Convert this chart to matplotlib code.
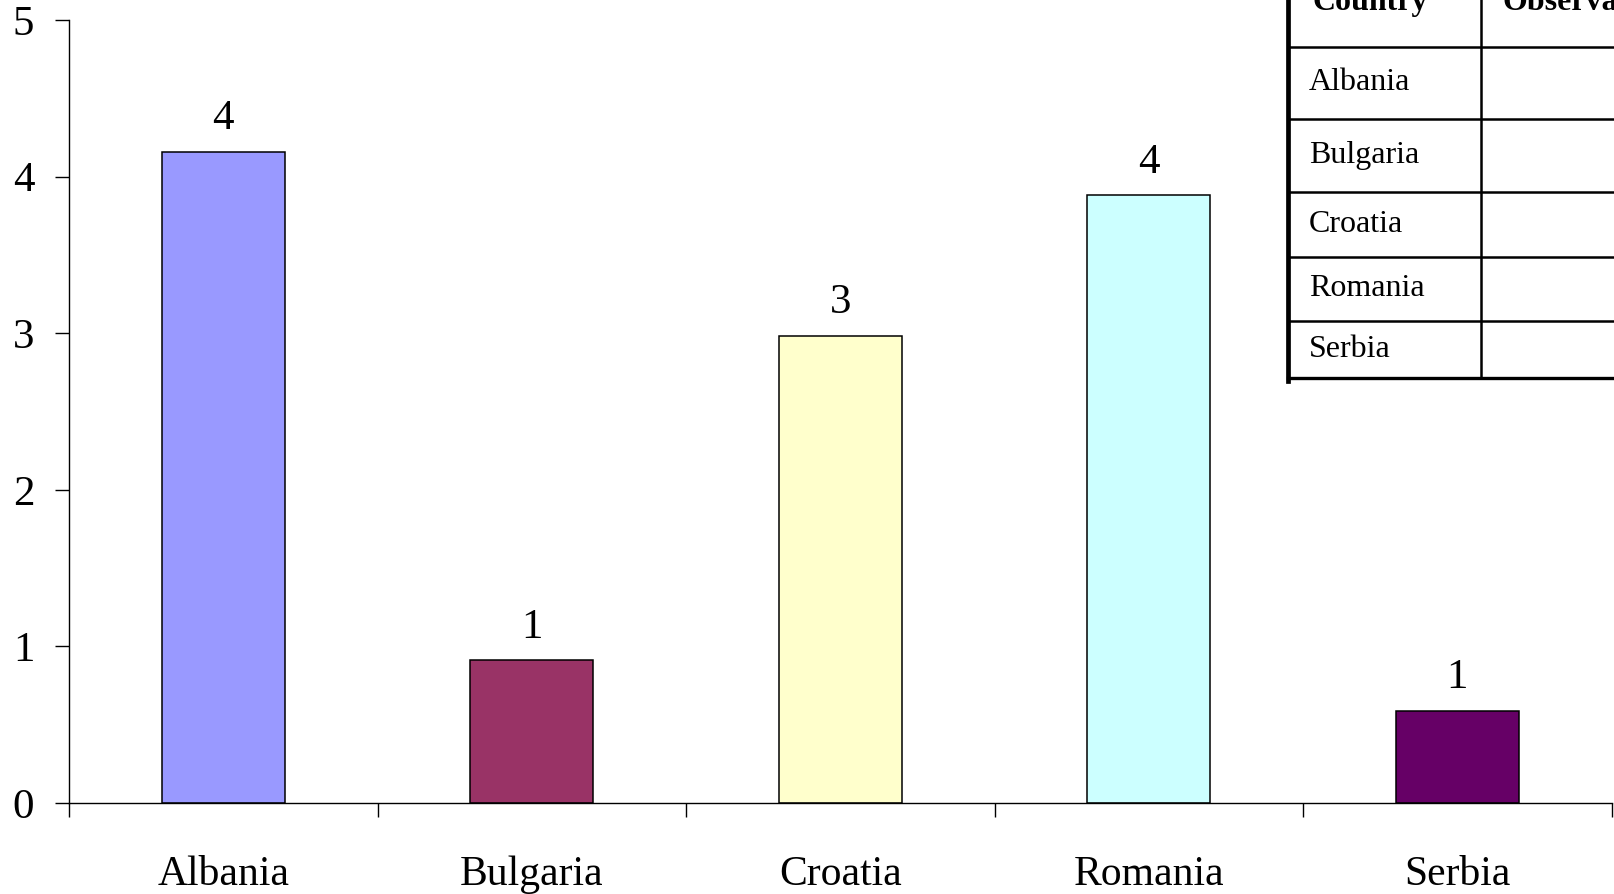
import matplotlib
matplotlib.use("Agg")
import matplotlib.pyplot as plt
from matplotlib.lines import Line2D

plt.rcParams['font.family'] = ['Liberation Serif', 'DejaVu Serif']

countries = ['Albania', 'Bulgaria', 'Croatia', 'Romania', 'Serbia']
values = [4.16, 0.91, 2.98, 3.88, 0.59]
colors = ['#9999FF', '#993366', '#FFFFCC', '#CCFFFF', '#660066']
table_header = ['Country', 'Observations']

W, H = 1614, 894
fig = plt.figure(figsize=(W / 100, H / 100), dpi=100)
ax = fig.add_axes([69 / W, 1 - 803 / H, (1611.5 - 69) / W, (803 - 20) / H])

x = list(range(len(countries)))
bars = ax.bar(x, values, width=0.40, color=colors, edgecolor='black', linewidth=1.1, zorder=2)

for xi, v in zip(x, values):
    ax.annotate(f'{v:.0f}', (xi, v), xytext=(0, 10), textcoords='offset points',
                ha='center', va='bottom', fontsize=31)

ax.set_xlim(-0.5, len(countries) - 0.5)
ax.set_ylim(0, 5)
ax.set_yticks(range(6))
ax.set_xticks(x)
ax.set_xticklabels(countries, fontsize=30)
ax.set_xticks([i - 0.5 for i in range(len(countries) + 1)], minor=True)
ax.tick_params(axis='x', which='major', length=0, pad=38)
ax.tick_params(axis='x', which='minor', length=10, width=1, direction='out')
ax.tick_params(axis='y', length=10, width=1, pad=15, labelsize=31)

for s in ['top', 'right']:
    ax.spines[s].set_visible(False)
for s in ['left', 'bottom']:
    ax.spines[s].set_linewidth(1)

# data table in the top right corner (cut off by the figure edge)
def fx(px):
    return px / W

def fy(py):
    return 1 - py / H

row_lines = [47, 119, 192, 257, 321, 378]
left_x, div_x = 1288, 1481
fig.add_artist(Line2D([fx(left_x)] * 2, [fy(-5), fy(381)], color='black', lw=3.4))
fig.add_artist(Line2D([fx(div_x)] * 2, [fy(-5), fy(378)], color='black', lw=1.8))
for i, ry in enumerate(row_lines):
    fig.add_artist(Line2D([fx(left_x), fx(W + 5)], [fy(ry)] * 2, color='black',
                          lw=2.4 if i == len(row_lines) - 1 else 1.8))

fig.text(fx(1313), fy(10), table_header[0], fontsize=23, fontweight='bold', va='baseline')
fig.text(fx(1502), fy(10), table_header[1], fontsize=23, fontweight='bold', va='baseline')
for name, t, b in zip(countries, row_lines[:-1], row_lines[1:]):
    fig.text(fx(1309), fy((t + b) / 2), name, fontsize=23, va='center')

fig.savefig('out.png', dpi=100)
